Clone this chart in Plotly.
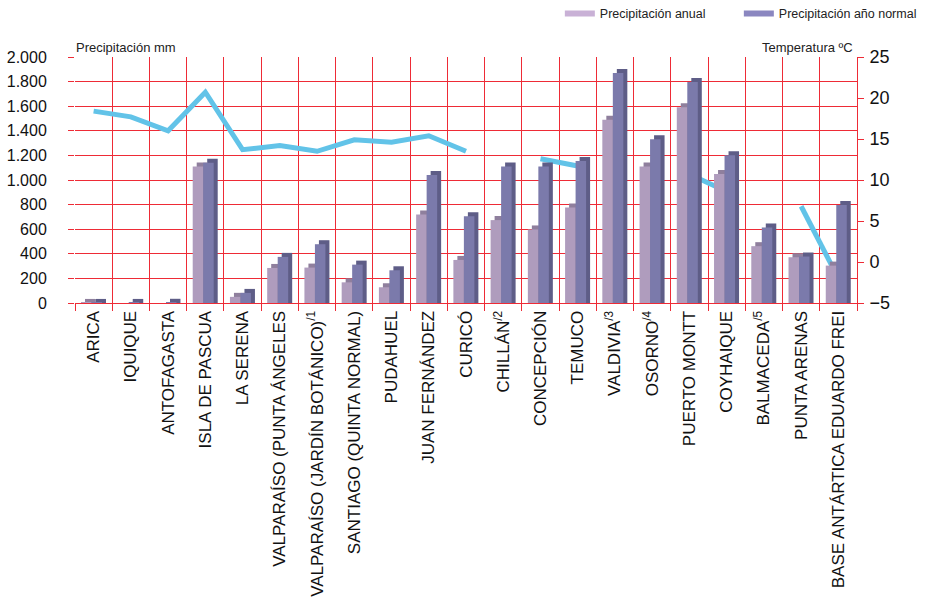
import plotly.graph_objects as go

categories = ["ARICA", "IQUIQUE", "ANTOFAGASTA", "ISLA DE PASCUA", "LA SERENA",
              "VALPARAÍSO (PUNTA ÁNGELES", "VALPARAÍSO (JARDÍN BOTÁNICO)",
              "SANTIAGO (QUINTA NORMAL)", "PUDAHUEL", "JUAN FERNÁNDEZ", "CURICÓ",
              "CHILLÁN", "CONCEPCIÓN", "TEMUCO", "VALDIVIA", "OSORNO",
              "PUERTO MONTT", "COYHAIQUE", "BALMACEDA", "PUNTA ARENAS",
              "BASE ANTÁRTICA EDUARDO FREI"]
tick_labels = ["ARICA", "IQUIQUE", "ANTOFAGASTA", "ISLA DE PASCUA", "LA SERENA",
               "VALPARAÍSO (PUNTA ÁNGELES", "VALPARAÍSO (JARDÍN BOTÁNICO)<sup>/1</sup>",
               "SANTIAGO (QUINTA NORMAL)", "PUDAHUEL", "JUAN FERNÁNDEZ", "CURICÓ",
               "CHILLÁN<sup>/2</sup>", "CONCEPCIÓN", "TEMUCO", "VALDIVIA<sup>/3</sup>",
               "OSORNO<sup>/4</sup>", "PUERTO MONTT", "COYHAIQUE", "BALMACEDA<sup>/5</sup>",
               "PUNTA ARENAS", "BASE ANTÁRTICA EDUARDO FREI"]
precip_anual = [0.5, 0, 0, 1110, 50, 285, 288, 168, 128, 720, 350, 674, 598, 777,
                1489, 1109, 1592, 1049, 462, 372, 304]
precip_normal = [0.5, 0.6, 1.7, 1141, 82, 375, 478, 312, 266, 1041, 706, 1109, 1109, 1155,
                 1869, 1331, 1796, 1201, 614, 378, 796]
temperatura = [18.4, 17.7, 16.0, 20.7, 13.7, 14.2, 13.5, 14.9, 14.6, 15.4, 13.5,
               None, 12.6, 11.7, None, None, 10.7, 8.6, None, 6.8, -2.0]

RED = "#ee2b36"
SANS = "Liberation Sans, Arial, sans-serif"

# geometry of pseudo-3D bars (in category units / mm)
unit_px = 782 / 21
bw = 10.5 / unit_px
dx = 4 / unit_px
dy_mm = 4 * 2000 / 246
off_a = -0.339
off_n = off_a + bw

def depth(vals):
    return [v + dy_mm if v > 0 else None for v in vals]

fig = go.Figure()

# temperature line (primary y, right side; drawn below bars)
fig.add_trace(go.Scatter(x=categories, y=temperatura, mode="lines", yaxis="y",
                         line=dict(color="#62c3e8", width=5), connectgaps=False,
                         showlegend=False, name="Temperatura"))

# bars on overlaying axis y2 (left)
fig.add_trace(go.Bar(x=categories, y=depth(precip_anual), yaxis="y2", offset=off_a + dx,
                     width=bw, marker=dict(color="#8f7f9d", line=dict(width=0)),
                     showlegend=False, hoverinfo="skip", legendgroup="a"))
fig.add_trace(go.Bar(x=categories, y=precip_anual, yaxis="y2", offset=off_a, width=bw,
                     marker=dict(color="#af9cbd", line=dict(width=0)),
                     name="Precipitación anual", showlegend=False, legendgroup="a"))
fig.add_trace(go.Bar(x=categories, y=depth(precip_normal), yaxis="y2", offset=off_n + dx,
                     width=bw, marker=dict(color="#5e5d87", line=dict(width=0)),
                     showlegend=False, hoverinfo="skip", legendgroup="n"))
fig.add_trace(go.Bar(x=categories, y=precip_normal, yaxis="y2", offset=off_n, width=bw,
                     marker=dict(color="#7b7aab", line=dict(width=0)),
                     name="Precipitación año normal", showlegend=False, legendgroup="n"))

# legend entries
fig.add_trace(go.Scatter(x=[None], y=[None], mode="lines", yaxis="y2",
                         line=dict(color="#c9b1d6", width=6),
                         name="Precipitación anual", legendgroup="a"))
fig.add_trace(go.Scatter(x=[None], y=[None], mode="lines", yaxis="y2",
                         line=dict(color="#8b87c0", width=6),
                         name="Precipitación año normal", legendgroup="n"))

fig.update_layout(
    width=933, height=606,
    margin=dict(l=75, r=76, t=57, b=303, autoexpand=False),
    paper_bgcolor="white", plot_bgcolor="white",
    barmode="overlay",
    separators=",.",
    showlegend=True,
    legend=dict(orientation="h", x=0.62, y=1.175, xanchor="left", yanchor="middle",
                font=dict(family=SANS, size=12.5, color="#222"),
                entrywidth=134, entrywidthmode="pixels", bgcolor="rgba(0,0,0,0)"),
    xaxis=dict(type="category", range=[-0.5, 20.5], tickmode="array",
               tickvals=categories, ticktext=tick_labels, tickangle=-90,
               tickson="boundaries", showgrid=True, gridcolor=RED, gridwidth=1,
               ticks="outside", ticklen=7, tickcolor=RED, showline=True, linecolor=RED,
               tickfont=dict(family=SANS, size=17, color="#111"), automargin=False),
    yaxis=dict(range=[-5, 25], dtick=5, side="right", showgrid=False, zeroline=False,
               ticks="outside", ticklen=6, tickcolor=RED, showline=True, linecolor=RED,
               tickfont=dict(family=SANS, size=18, color="#111"), ticklabelstandoff=2,
               automargin=False),
    yaxis2=dict(range=[0, 2000], dtick=200, overlaying="y", side="left",
                showgrid=True, gridcolor=RED, gridwidth=1, zeroline=False,
                ticks="outside", ticklen=6, tickcolor=RED, separatethousands=True,
                tickformat=",d",
                tickfont=dict(family=SANS, size=16, color="#111"), ticklabelstandoff=18,
                automargin=False),
    annotations=[
        dict(text="Precipitación mm", xref="paper", yref="paper", x=-0.001, y=1.04,
             xanchor="left", yanchor="middle", showarrow=False,
             font=dict(family=SANS, size=13, color="#222")),
        dict(text="Temperatura ºC", xref="paper", yref="paper", x=0.997, y=1.04,
             xanchor="right", yanchor="middle", showarrow=False,
             font=dict(family=SANS, size=13, color="#222")),
    ],
)

fig.write_html("out.html", config={"displayModeBar": False},
               post_script="document.body.style.margin='0';")
